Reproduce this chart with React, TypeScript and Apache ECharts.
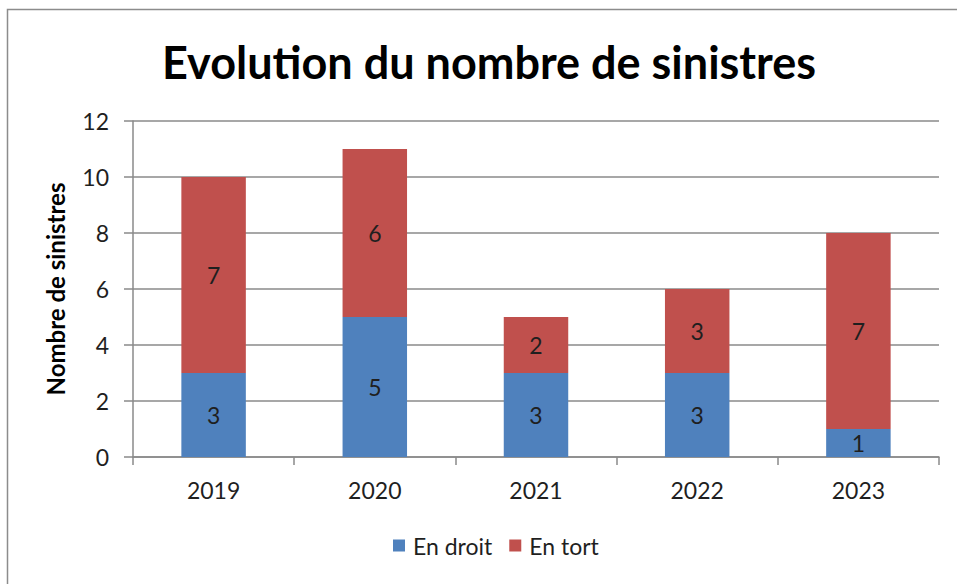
import React, { useEffect, useRef } from "react";
import * as echarts from "echarts";

const categories = ["2019", "2020", "2021", "2022", "2023"];
const enDroit = [3, 5, 3, 3, 1];
const enTort = [7, 6, 2, 3, 7];
const yTicks = { min: 0, max: 12, interval: 2 };

const FONT = "Lato, 'Open Sans', sans-serif";
const TXT = "#1f1f1f";
const GRID = "#8a8a8a";

export default function App() {
  const ref = useRef<HTMLDivElement>(null);
  useEffect(() => {
    if (!ref.current) return;
    const chart = echarts.init(ref.current, null, { renderer: "svg" });
    chart.setOption({
      animation: false,
      backgroundColor: "#ffffff",
      textStyle: { fontFamily: FONT },
      title: {
        text: "Evolution du nombre de sinistres",
        left: 157,
        top: 34,
        textStyle: { fontFamily: FONT, fontSize: 45, fontWeight: "bold", color: "#000" },
      },
      graphic: [
        {
          type: "rect",
          shape: { x: 7.5, y: 9.5, width: 1000, height: 1000 },
          style: { fill: "none", stroke: "#8c8c8c", lineWidth: 1.5 },
          z: 0,
        },
      ],
      legend: {
        bottom: 22,
        left: 388,
        itemWidth: 12,
        itemHeight: 12,
        itemGap: 17,
        icon: "rect",
        textStyle: { fontFamily: FONT, fontSize: 23, color: TXT, padding: [0, 0, 0, 3] },
        data: ["En droit", "En tort"],
      },
      grid: { left: 133, right: 18, top: 121, bottom: 127, containLabel: false },
      xAxis: {
        type: "category",
        data: categories,
        boundaryGap: true,
        axisLine: { show: true, lineStyle: { color: GRID, width: 1.5 } },
        axisTick: { show: true, length: 8, lineStyle: { color: GRID, width: 1.5 } },
        axisLabel: { fontFamily: FONT, fontSize: 23, color: TXT, margin: 21 },
      },
      yAxis: {
        type: "value",
        min: yTicks.min,
        max: yTicks.max,
        interval: yTicks.interval,
        name: "Nombre de sinistres",
        nameLocation: "middle",
        nameRotate: 90,
        nameGap: 66,
        nameTextStyle: { fontFamily: FONT, fontSize: 24, fontWeight: "bold", color: "#000" },
        axisLine: { show: true, lineStyle: { color: GRID, width: 1.5 } },
        axisTick: { show: true, length: 9, lineStyle: { color: GRID, width: 1.5 } },
        splitLine: { show: true, lineStyle: { color: GRID, width: 1.5 } },
        axisLabel: { fontFamily: FONT, fontSize: 23, color: TXT, margin: 24 },
      },
      series: [
        {
          name: "En droit",
          type: "bar",
          stack: "total",
          barWidth: "40%",
          data: enDroit,
          itemStyle: { color: "#4f81bd" },
          label: { show: true, position: "inside", fontFamily: FONT, fontSize: 23, color: TXT },
        },
        {
          name: "En tort",
          type: "bar",
          stack: "total",
          barWidth: "40%",
          data: enTort,
          itemStyle: { color: "#c0504d" },
          label: { show: true, position: "inside", fontFamily: FONT, fontSize: 23, color: TXT },
        },
      ],
    });
    return () => chart.dispose();
  }, []);
  return (
    <div
      ref={ref}
      style={{ position: "fixed", left: 0, top: 0, width: 957, height: 584, background: "#fff" }}
    />
  );
}
